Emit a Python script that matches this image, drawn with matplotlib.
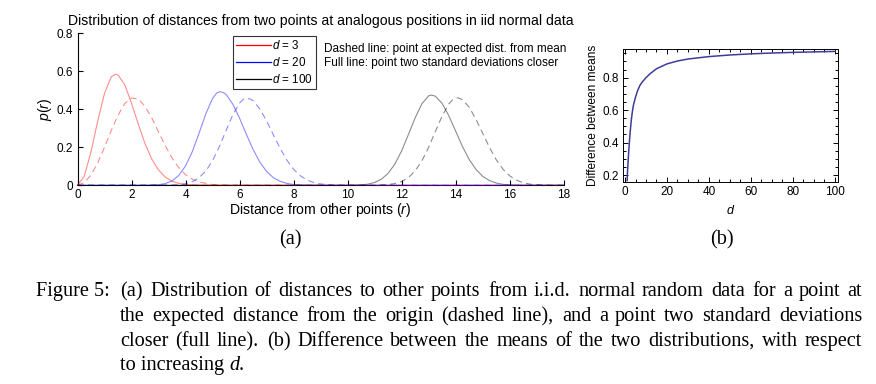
import matplotlib
matplotlib.use("Agg")
import matplotlib.pyplot as plt
from matplotlib.lines import Line2D

plt.rcParams["font.family"] = ["Liberation Sans", "DejaVu Sans"]
plt.rcParams["mathtext.fontset"] = "custom"
plt.rcParams["mathtext.it"] = "Liberation Sans:italic"
plt.rcParams["mathtext.rm"] = "Liberation Sans"
plt.rcParams["lines.scale_dashes"] = False

# (a) densities p(r)
d3_full_x = [0, 0.25, 0.5, 0.75, 1.0, 1.25, 1.4, 1.5, 1.75, 2.0, 2.25, 2.5, 2.75, 3.0, 3.25, 3.5, 3.75, 4.0, 4.5, 5.0, 18]
d3_full_y = [0, 0.048, 0.176, 0.339, 0.484, 0.571, 0.584, 0.581, 0.529, 0.432, 0.322, 0.219, 0.138, 0.080, 0.043, 0.021, 0.010, 0.004, 0.001, 0, 0]
d3_dash_x = [0, 0.25, 0.5, 0.75, 1.0, 1.25, 1.5, 1.75, 2.0, 2.25, 2.5, 2.75, 3.0, 3.25, 3.5, 3.75, 4.0, 4.25, 4.5, 5.0, 5.5, 6.0, 18]
d3_dash_y = [0, 0.014, 0.054, 0.119, 0.200, 0.288, 0.369, 0.430, 0.460, 0.454, 0.416, 0.354, 0.281, 0.208, 0.144, 0.093, 0.056, 0.032, 0.017, 0.004, 0.001, 0, 0]

d20_full_x = [0, 2.5, 3.0, 3.25, 3.5, 3.75, 4.0, 4.25, 4.5, 4.75, 5.0, 5.15, 5.28, 5.4, 5.5, 5.75, 6.0, 6.25, 6.5, 6.75, 7.0, 7.25, 7.5, 7.75, 8.0, 8.5, 9.0, 18]
d20_full_y = [0, 0, 0.003, 0.009, 0.023, 0.052, 0.102, 0.177, 0.274, 0.376, 0.457, 0.485, 0.493, 0.488, 0.478, 0.427, 0.353, 0.269, 0.189, 0.122, 0.073, 0.040, 0.021, 0.010, 0.004, 0.001, 0, 0]
d20_dash_x = [0, 3.5, 3.75, 4.0, 4.25, 4.5, 4.75, 5.0, 5.25, 5.5, 5.75, 6.0, 6.13, 6.27, 6.4, 6.5, 6.75, 7.0, 7.25, 7.5, 7.75, 8.0, 8.25, 8.5, 8.75, 9.0, 9.5, 10.0, 18]
d20_dash_y = [0, 0.001, 0.003, 0.008, 0.019, 0.040, 0.075, 0.130, 0.203, 0.288, 0.371, 0.433, 0.451, 0.458, 0.454, 0.445, 0.402, 0.339, 0.266, 0.195, 0.133, 0.084, 0.050, 0.028, 0.014, 0.007, 0.001, 0, 0]

d100_full_x = [0, 10.0, 10.5, 10.75, 11.0, 11.25, 11.5, 11.75, 12.0, 12.25, 12.5, 12.75, 13.0, 13.11, 13.25, 13.5, 13.75, 14.0, 14.25, 14.5, 14.75, 15.0, 15.25, 15.5, 15.75, 16.0, 16.5, 17.0, 18]
d100_full_y = [0, 0, 0.002, 0.006, 0.015, 0.032, 0.063, 0.112, 0.181, 0.267, 0.355, 0.429, 0.471, 0.475, 0.469, 0.431, 0.365, 0.285, 0.205, 0.136, 0.084, 0.047, 0.025, 0.012, 0.005, 0.002, 0, 0, 0]
d100_dash_x = [0, 11.0, 11.5, 11.75, 12.0, 12.25, 12.5, 12.75, 13.0, 13.25, 13.5, 13.75, 13.9, 14.06, 14.25, 14.5, 14.75, 15.0, 15.25, 15.5, 15.75, 16.0, 16.25, 16.5, 16.75, 17.0, 17.5, 18]
d100_dash_y = [0, 0, 0.004, 0.009, 0.020, 0.040, 0.076, 0.129, 0.200, 0.283, 0.365, 0.429, 0.452, 0.461, 0.451, 0.411, 0.348, 0.274, 0.200, 0.135, 0.085, 0.050, 0.027, 0.014, 0.006, 0.003, 0, 0]

# (b) difference between means vs d
diff_d = [1, 1.25, 1.5, 2, 2.5, 3, 3.5, 4, 5, 6, 7, 8, 10, 12, 15, 20, 25, 30, 40, 50, 60, 70, 80, 90, 100]
diff_val = [0.165, 0.235, 0.29, 0.39, 0.47, 0.54, 0.59, 0.63, 0.68, 0.72, 0.75, 0.77, 0.80, 0.825, 0.855, 0.885, 0.903, 0.915, 0.93, 0.94, 0.947, 0.952, 0.956, 0.959, 0.962]

legend_labels = ["$d$ = 3", "$d$ = 20", "$d$ = 100"]

W, H = 876, 384
fig = plt.figure(figsize=(W / 100, H / 100), dpi=100)

def px_axes(l, t, r, b):
    return fig.add_axes([l / W, 1 - b / H, (r - l) / W, (b - t) / H])

# ---------- panel (a)
ax = px_axes(77.5, 33.3, 563.7, 185.3)
curves = [
    (d3_full_x, d3_full_y, d3_dash_x, d3_dash_y, "red"),
    (d20_full_x, d20_full_y, d20_dash_x, d20_dash_y, "blue"),
    (d100_full_x, d100_full_y, d100_dash_x, d100_dash_y, "black"),
]
for fx, fy, dx, dy, c in curves:
    ax.plot(fx, fy, color=c, alpha=0.45, lw=0.8, zorder=3, clip_on=False)
    ax.plot(dx, dy, color=c, alpha=0.45, lw=0.8, dashes=(4.5, 3), zorder=3, clip_on=False)

ax.set_xlim(0, 18)
ax.set_ylim(0, 0.8)
ax.set_xticks(range(0, 19, 2))
ax.set_yticks([0, 0.2, 0.4, 0.6, 0.8])
ax.set_yticklabels(["0", "0.2", "0.4", "0.6", "0.8"])
ax.spines["top"].set_visible(False)
ax.spines["right"].set_visible(False)
for s in ("left", "bottom"):
    ax.spines[s].set_linewidth(0.8)
ax.tick_params(direction="in", length=3.5, width=0.8, labelsize=8.5, pad=3)
ax.set_title("Distribution of distances from two points at analogous positions in iid normal data",
             fontsize=10.1, pad=6)
ax.set_xlabel("Distance from other points ($r$)", fontsize=10.1, labelpad=0)
ax.set_ylabel("$p$($r$)", fontsize=10.1)
ax.yaxis.set_label_coords(-0.049, 0.5)

handles = [Line2D([], [], color=c, lw=0.9) for c in ("red", "blue", "black")]
leg = ax.legend(handles, legend_labels, loc="upper left", bbox_to_anchor=(0.319, 0.985),
                fontsize=8.4, frameon=True, fancybox=False, handlelength=3.0,
                handletextpad=0.1, borderpad=0.3, labelspacing=0.33, borderaxespad=0)
leg.get_frame().set_edgecolor("black")
leg.get_frame().set_linewidth(0.8)

ax.text(324 / W, 1 - 49 / H, "Dashed line: point at expected dist. from mean",
        transform=fig.transFigure, fontsize=8.5, va="center", ha="left")
ax.text(324 / W, 1 - 63 / H, "Full line: point two standard deviations closer",
        transform=fig.transFigure, fontsize=8.5, va="center", ha="left")

# ---------- panel (b)
bx = px_axes(622.7, 49.3, 838.3, 182.3)
bx.plot(diff_d, diff_val, color="#3d3d99", lw=1.1)
bx.set_xlim(-1.1, 101.6)
bx.set_ylim(0.155, 0.975)
bx.set_xticks(range(0, 101, 20))
bx.set_xticks(range(0, 101, 5), minor=True)
bx.set_yticks([0.2, 0.4, 0.6, 0.8])
bx.set_yticks([0.2 + 0.05 * i for i in range(16)], minor=True)
bx.tick_params(which="both", direction="in", top=True, right=True, width=0.7, labelsize=8.5, pad=3)
bx.tick_params(which="major", length=3.5)
bx.tick_params(which="minor", length=2)
for s in bx.spines.values():
    s.set_linewidth(0.7)
bx.set_xlabel("$d$", fontsize=9, labelpad=4)
bx.set_ylabel("Difference between means", fontsize=8.6, labelpad=2)

# ---------- sub-labels and caption
serif = ["Liberation Serif", "DejaVu Serif"]
cap_fs = 14.6
fig.text(290 / W, 1 - 240 / H, "(a)", family=serif, fontsize=cap_fs, ha="center", va="center")
fig.text(722 / W, 1 - 240 / H, "(b)", family=serif, fontsize=cap_fs, ha="center", va="center")

caption = [
    "(a) Distribution of distances to other points from i.i.d. normal random data for a point at",
    "the expected distance from the origin (dashed line), and a point two standard deviations",
    "closer (full line). (b) Difference between the means of the two distributions, with respect",
]
baselines = [296, 321, 346, 370]
x_left, x_right = 120, 862

renderer = fig.canvas.get_renderer()

def put(x, y, s, **kw):
    # place in pixel units so the baseline sits on a whole pixel
    return fig.text(round(x), H - y, s, family=serif, fontsize=cap_fs,
                    va="baseline", ha="left", transform=None, **kw)

def justify(text, y):
    words = text.split(" ")
    objs = [put(0, y, w) for w in words]
    widths = [o.get_window_extent(renderer).width for o in objs]
    gap = (x_right - x_left - sum(widths)) / (len(words) - 1)
    x = x_left
    for o, w in zip(objs, widths):
        o.set_x(round(x))
        x += w + gap

put(36, baselines[0], "Figure 5:")
for text, y in zip(caption, baselines):
    justify(text, y)

t = put(x_left, baselines[3], "to increasing ")
w1 = t.get_window_extent(renderer).width
t2 = put(x_left + w1, baselines[3], "d", style="italic")
w2 = t2.get_window_extent(renderer).width
put(x_left + w1 + w2, baselines[3], ".")

fig.savefig("out.png", dpi=100)
